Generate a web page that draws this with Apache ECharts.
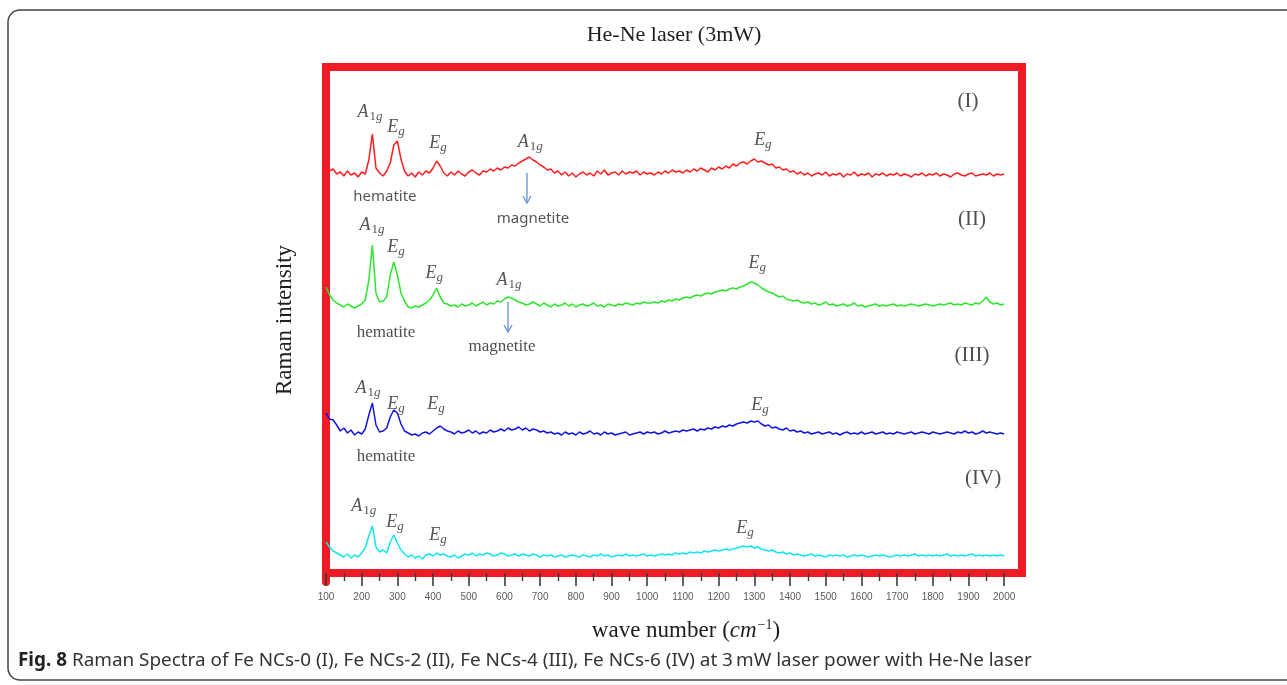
<!DOCTYPE html>
<html>
<head>
<meta charset="utf-8">
<script src="https://cdn.jsdelivr.net/npm/echarts@6/dist/echarts.min.js"></script>
<style>
  html, body { margin: 0; padding: 0; background: #fff; }
  #chart { width: 1287px; height: 685px; }
</style>
</head>
<body>
<div id="chart"></div>
<script>
// Raman spectra, 100–2000 cm^-1 sampled every 10 cm^-1 (191 points each).
// Values are intensities above each trace's own baseline (arbitrary units).
const SAMPLE_START = 100;
const SAMPLE_STEP = 10;

// (I) Fe NCs-0
const spectrumI = [
  7, 3, 5, 0, 2, -2, 3, -1, 1, -3,
  2, 0, 14, 40, 6, 1, -2, 3, 11, 29,
  33, 15, 3, -2, 1, -3, 2, -1, 3, 1,
  6, 13, 8, 1, -2, 2, -1, 3, 0, -2,
  2, 4, 1, -1, 3, 2, 5, 3, 6, 4,
  7, 6, 9, 8, 11, 13, 15, 17, 14, 12,
  9, 7, 4, 5, 1, 3, -1, 2, -2, 1,
  -3, 0, 2, -1, 1, -2, 3, 0, 4, -1,
  1, 2, -1, 3, 0, 2, 1, 3, -1, 2,
  0, 1, -1, 2, 0, 3, 1, 4, 2, 3,
  1, 4, 2, 5, 3, 6, 4, 2, 6, 4,
  7, 5, 8, 6, 10, 8, 11, 12, 10, 13,
  15, 12, 13, 11, 9, 10, 6, 7, 4, 5,
  2, 3, 0, 2, -1, 1, -2, 0, 1, -1,
  2, -2, 0, -1, 1, -3, 0, -1, 2, -2,
  0, -1, 1, -3, 0, -1, 1, -2, 0, -1,
  1, -2, 0, -1, -3, 0, -1, 1, -2, 0,
  -1, 1, -2, 0, -1, -3, 0, 1, -1, -2,
  0, 1, -2, -1, 0, -1, 1, -2, 0, -1,
  0
];

// (II) Fe NCs-2
const spectrumII = [
  18, 10, 5, 2, 0, -2, 1, -1, -3, -1,
  1, 5, 25, 60, 12, 3, 4, 8, 30, 43,
  30, 12, 4, -2, -3, -1, -2, 0, 2, 5,
  10, 17, 8, 2, 1, -1, 0, -2, 1, -1,
  0, 2, -1, 1, 3, 0, 2, 1, 4, 3,
  6, 8, 7, 5, 3, 2, 0, 1, 3, 1,
  -1, 2, 0, -2, 1, -1, 0, 2, -1, 1,
  -2, 0, 1, -1, 0, 2, -1, 0, -2, 1,
  0, -1, 1, 0, 2, 1, 0, 2, 1, 3,
  2, 2, 3, 2, 4, 3, 5, 4, 6, 5,
  7, 8, 7, 9, 10, 9, 11, 12, 11, 13,
  14, 15, 14, 16, 17, 16, 18, 19, 21, 23,
  22, 20, 17, 15, 13, 12, 10, 8, 9, 6,
  5, 4, 5, 3, 2, 3, 1, 2, 0, 1,
  3, 0, 1, -1, 0, 1, -1, 0, 2, -1,
  0, -2, -1, 0, 1, -1, 0, -1, 0, 1,
  -1, 0, -1, 0, 1, 0, -1, 0, 1, 0,
  -1, 0, 1, 0, 1, 2, 0, 1, 0, 2,
  1, 0, 2, 1, 4, 8, 3, 1, 2, 0,
  1
];

// (III) Fe NCs-4
const spectrumIII = [
  20, 14, 13, 8, 2, 5, 0, 3, -2, 1,
  -1, 4, 18, 30, 8, 1, 2, 5, 16, 23,
  20, 9, 2, 0, -2, -1, -3, 0, 1, -1,
  2, 5, 7, 4, 2, 1, -1, 2, 0, 1,
  3, 0, 2, -1, 1, 0, 3, 1, 2, 4,
  2, 5, 3, 4, 6, 3, 5, 2, 4, 3,
  1, 2, 0, 1, -1, 0, -2, 1, -1, 0,
  -2, 1, -1, 0, 2, -1, 0, -2, 1, -1,
  0, -2, -1, 0, 1, -2, -1, 0, 1, -1,
  1, 0, 1, -1, 0, 2, 0, 1, 2, 1,
  3, 2, 3, 4, 2, 4, 3, 5, 4, 6,
  5, 7, 6, 8, 7, 9, 10, 11, 10, 12,
  11, 12, 9, 7, 8, 5, 6, 4, 3, 5,
  2, 3, 1, 2, 0, 1, -1, 0, 1, -1,
  0, 1, -1, 0, -2, 0, 1, -1, 0, -1,
  1, -1, 0, 1, -1, 0, 1, -1, 0, -1,
  1, 0, -1, 0, 1, -1, 0, 1, 0, -1,
  1, 0, -1, 0, 1, 0, -1, 1, 0, 2,
  0, 1, -1, 0, 2, 0, 1, 0, -1, 0,
  -1
];

// (IV) Fe NCs-6
const spectrumIV = [
  14, 9, 5, 3, 1, -1, 2, -2, 1, -1,
  3, 8, 20, 30, 9, 4, 6, 3, 14, 21,
  13, 6, 2, -1, 1, -2, 0, -3, 1, 2,
  0, 3, 1, 2, 0, -1, 1, -2, 0, 2,
  1, 3, 0, 2, 1, 3, 2, 0, 1, 3,
  2, 0, 1, 2, 0, 2, 1, 0, 2, 1,
  -1, 1, 0, 1, -1, 0, 1, -1, 0, 1,
  0, -1, 1, 0, -1, 1, 0, 2, 0, 1,
  -1, 0, 1, 0, 2, 0, 1, 0, 1, 2,
  0, 1, 0, 1, 2, 1, 2, 1, 3, 2,
  3, 2, 4, 3, 4, 3, 5, 4, 5, 6,
  5, 6, 7, 6, 7, 8, 9, 10, 9, 10,
  8, 9, 7, 6, 5, 6, 4, 3, 4, 2,
  3, 1, 2, 1, 0, 1, 2, 0, 1, 0,
  -1, 1, 0, 1, 0, 1, -1, 0, 1, 0,
  1, 0, -1, 0, 1, 0, 1, 0, -1, 0,
  1, 0, 1, 0, 1, 2, 0, 1, 0, 1,
  0, 1, 0, 1, 2, 0, 1, 0, 1, 0,
  1, 2, 0, 1, 0, 1, 0, 1, 0, 1,
  0
];

// Vertical stacking offsets of the four traces (intensity units)
const stackOffsets = [399, 268, 140, 17];
const traceNames = ['Fe NCs-0 (I)', 'Fe NCs-2 (II)', 'Fe NCs-4 (III)', 'Fe NCs-6 (IV)'];
const traceColors = ['#ff1e1e', '#2ee62e', '#1414e6', '#14e6ee'];

// Axis ticks (cm^-1)
const xLabelTicks = [100, 200, 300, 400, 500, 600, 700, 800, 900, 1000,
  1100, 1200, 1300, 1400, 1500, 1600, 1700, 1800, 1900, 2000];
const xHalfTicks = [150, 250, 350, 450, 550, 650, 750, 850, 950, 1050,
  1150, 1250, 1350, 1450, 1550, 1650, 1750, 1850, 1950];

// Band assignments and labels, placed in (wave number, intensity) coordinates
const annotations = [
  // (I)
  { kind: 'A1g', x: 223, y: 461 }, { kind: 'Eg', x: 296, y: 446 }, { kind: 'Eg', x: 414, y: 430 },
  { kind: 'A1g', x: 672, y: 431 }, { kind: 'Eg', x: 1324, y: 433 },
  { kind: 'sans', text: 'hematite', x: 265, y: 376 }, { kind: 'sans', text: 'magnetite', x: 680, y: 354 },
  { kind: 'num', text: '(I)', x: 1899, y: 472 },
  // (II)
  { kind: 'A1g', x: 229, y: 348 }, { kind: 'Eg', x: 296, y: 326 }, { kind: 'Eg', x: 403, y: 300 },
  { kind: 'A1g', x: 613, y: 293 }, { kind: 'Eg', x: 1308, y: 310 },
  { kind: 'serif', text: 'hematite', x: 268, y: 240 }, { kind: 'serif', text: 'magnetite', x: 593, y: 226 },
  { kind: 'num', text: '(II)', x: 1910, y: 354 },
  // (III)
  { kind: 'A1g', x: 218, y: 185 }, { kind: 'Eg', x: 296, y: 169 }, { kind: 'Eg', x: 408, y: 169 },
  { kind: 'Eg', x: 1316, y: 168 },
  { kind: 'serif', text: 'hematite', x: 268, y: 116 },
  { kind: 'num', text: '(III)', x: 1910, y: 218 },
  // (IV)
  { kind: 'A1g', x: 206, y: 67 }, { kind: 'Eg', x: 293, y: 51 }, { kind: 'Eg', x: 414, y: 38 },
  { kind: 'Eg', x: 1274, y: 45 },
  { kind: 'num', text: '(IV)', x: 1941, y: 95 }
];

// Arrows pointing from the magnetite band to its label: [wave number, from, to]
const magnetiteArrows = [[663, 400, 370], [610, 271, 241]];

const spectra = [spectrumI, spectrumII, spectrumIII, spectrumIV];
const waveNumbers = spectrumI.map((_, i) => SAMPLE_START + SAMPLE_STEP * i);

const GRID = { left: 326, right: 265, top: 67, bottom: 112 };
const FRAME_RED = '#ee1c25';
const MATH_INK = '#2b2b2b';

function annotationText(a) {
  if (a.kind === 'A1g') return '{ma|A}{ms|1}{mg|g}';
  if (a.kind === 'Eg') return '{ma|E}{mg|g}';
  if (a.kind === 'sans') return '{ws|' + a.text + '}';
  if (a.kind === 'serif') return '{wr|' + a.text + '}';
  return '{rn|' + a.text + '}';
}

const traceSeries = spectra.map((s, k) => ({
  name: traceNames[k],
  type: 'line',
  xAxisIndex: 0,
  yAxisIndex: 0,
  data: waveNumbers.map((w, i) => [w, stackOffsets[k] + s[i]]),
  showSymbol: false,
  symbol: 'none',
  lineStyle: { color: traceColors[k], width: 1.5 },
  silent: true,
  z: 3
}));

const chart = echarts.init(document.getElementById('chart'), null, { renderer: 'canvas' });

chart.setOption({
  animation: false,
  backgroundColor: '#ffffff',
  title: {
    text: 'He-Ne laser (3mW)',
    left: 674,
    textAlign: 'center',
    top: 24,
    padding: 0,
    textStyle: { fontFamily: 'Liberation Serif', fontSize: 22, fontWeight: 'normal', color: '#1e1e1e' }
  },
  grid: {
    left: GRID.left, right: GRID.right, top: GRID.top, bottom: GRID.bottom,
    show: true,
    borderColor: FRAME_RED,
    borderWidth: 8,
    backgroundColor: 'transparent'
  },
  xAxis: [
    {
      type: 'value',
      position: 'bottom',
      min: 100,
      max: 2050,
      splitLine: { show: false },
      axisLine: { show: false },
      axisTick: {
        show: true, customValues: xLabelTicks, length: 13,
        lineStyle: { color: '#3a3a3a', width: 1.6 }
      },
      axisLabel: {
        show: true, customValues: xLabelTicks, margin: 19,
        formatter: v => String(v),
        fontFamily: 'Liberation Sans', fontSize: 10, color: '#5a5a5a'
      },
      name: 'wave number ({i|cm}{sup|\u22121})',
      nameLocation: 'middle',
      nameGap: 45,
      nameTextStyle: {
        fontFamily: 'Liberation Serif', fontSize: 23, color: '#1e1e1e',
        padding: [0, 0, 0, 24],
        rich: {
          i: { fontFamily: 'Liberation Serif', fontStyle: 'italic', fontSize: 23, color: '#1e1e1e' },
          sup: { fontFamily: 'Liberation Serif', fontSize: 14, color: '#1e1e1e', padding: [0, 0, 12, 1] }
        }
      }
    },
    {
      type: 'value',
      position: 'bottom',
      min: 100,
      max: 2050,
      splitLine: { show: false },
      axisLine: { show: false },
      axisLabel: { show: false },
      axisTick: {
        show: true, customValues: xHalfTicks, length: 8,
        lineStyle: { color: '#3a3a3a', width: 1.4 }
      }
    }
  ],
  yAxis: {
    type: 'value',
    min: 0,
    max: 506,
    axisLine: { show: false },
    axisTick: { show: false },
    axisLabel: { show: false },
    splitLine: { show: false },
    name: 'Raman intensity',
    nameLocation: 'middle',
    nameGap: 30,
    nameRotate: 90,
    nameTextStyle: { fontFamily: 'Liberation Serif', fontSize: 23, color: '#1e1e1e' }
  },
  series: traceSeries.concat([
    {
      name: 'labels',
      type: 'scatter',
      xAxisIndex: 0,
      yAxisIndex: 0,
      symbolSize: 0,
      silent: true,
      z: 5,
      data: annotations.map(a => ({ value: [a.x, a.y], name: annotationText(a) })),
      label: {
        show: true,
        position: 'inside',
        formatter: p => p.name,
        rich: {
          ma: { fontFamily: 'Liberation Serif', fontStyle: 'italic', fontSize: 18, color: MATH_INK },
          ms: { fontFamily: 'Liberation Serif', fontSize: 13, color: MATH_INK, padding: [9, 0, 0, 1] },
          mg: { fontFamily: 'Liberation Serif', fontStyle: 'italic', fontSize: 13, color: MATH_INK, padding: [9, 0, 0, 0] },
          ws: { fontFamily: 'Noto Sans', fontSize: 15, color: '#2b2b2b' },
          wr: { fontFamily: 'Liberation Serif', fontSize: 17, color: '#222' },
          rn: { fontFamily: 'Liberation Serif', fontSize: 21, color: '#222' }
        }
      }
    },
    {
      name: 'arrows',
      type: 'custom',
      xAxisIndex: 0,
      yAxisIndex: 0,
      silent: true,
      z: 4,
      data: magnetiteArrows,
      renderItem: (params, api) => {
        const a = api.coord([api.value(0), api.value(1)]);
        const b = api.coord([api.value(0), api.value(2)]);
        const style = { stroke: '#6f98d2', lineWidth: 1.4, fill: 'none' };
        return {
          type: 'group',
          children: [
            { type: 'line', shape: { x1: a[0], y1: a[1], x2: b[0], y2: b[1] }, style },
            { type: 'polyline', shape: { points: [[b[0] - 4, b[1] - 7], [b[0], b[1]], [b[0] + 4, b[1] - 7]] }, style }
          ]
        };
      }
    }
  ]),
  graphic: [
    {
      type: 'rect',
      shape: { x: 8, y: 10, width: 1300, height: 670, r: 12 },
      style: { fill: 'none', stroke: '#444', lineWidth: 1.5 },
      silent: true
    },
    {
      type: 'line',
      shape: { x1: GRID.left, y1: 685 - GRID.bottom, x2: GRID.left, y2: 685 - GRID.bottom + 9 },
      style: { stroke: FRAME_RED, lineWidth: 8, lineCap: 'round' },
      silent: true
    },
    {
      type: 'text',
      left: 18,
      top: 651,
      style: {
        text: '{b|Fig. 8} Raman Spectra of Fe NCs-0 (I), Fe NCs-2 (II), Fe NCs-4 (III), Fe NCs-6 (IV) at 3\u2009mW laser power with He-Ne laser',
        fontFamily: 'Noto Sans',
        fontSize: 18.9,
        fill: '#333',
        rich: {
          b: { fontFamily: 'Noto Sans', fontSize: 18.9, fontWeight: 'bold', fill: '#222' }
        }
      },
      silent: true
    }
  ]
});
</script>
</body>
</html>
